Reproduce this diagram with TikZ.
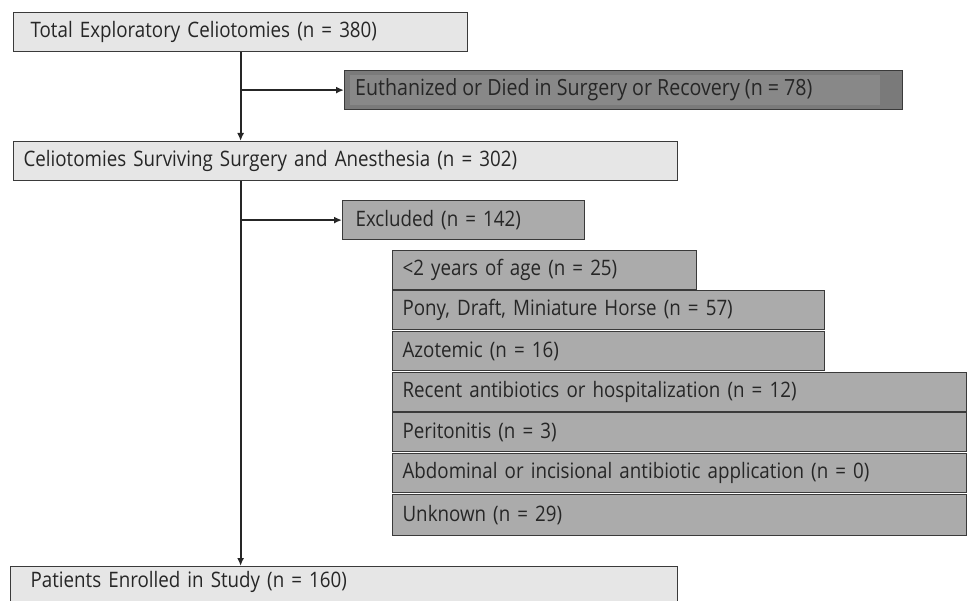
\documentclass[tikz,border=0pt]{standalone}
\usepackage{fontspec}
\setmainfont[FakeStretch=0.88]{Open Sans}
\usetikzlibrary{arrows.meta}
\definecolor{lightbox}{HTML}{E6E6E6}
\definecolor{darkbox}{HTML}{7A7A7A}
\definecolor{darkinner}{HTML}{888888}
\definecolor{midbox}{HTML}{ABABAB}
\definecolor{edge}{HTML}{3A3A3A}
\begin{document}
\begin{tikzpicture}[x=1pt,y=-1pt,
  txt/.style={font=\fontsize{21.3}{25}\selectfont, text=black!85},
  box/.style={draw=edge, line width=1.2pt, anchor=north west, minimum height=39pt,
    align=left, inner ysep=0pt, txt},
  lbox/.style={box, fill=lightbox},
  mbox/.style={box, fill=midbox},
  conn/.style={line width=2pt, draw=black!85, -{Latex[length=8pt,width=7pt]}}
]
\useasboundingbox (0,0) rectangle (967,601);
\node[lbox, inner xsep=17pt, text width=420pt] (total) at (13,12) {Total Exploratory Celiotomies (n = 380)};
\node[box, fill=darkbox, inner xsep=11pt, text width=536pt] (euth) at (344,70) {\phantom{X}};
\fill[darkinner] (350,75) rectangle (880,105);
\node[anchor=west, txt, font=\fontsize{22.3}{26}\selectfont, inner xsep=0pt] (euthtext) at ([xshift=11pt]euth.west) {Euthanized or Died in Surgery or Recovery (n = 78)};
\node[lbox, inner xsep=10pt, text width=644pt] (surv) at (13,141) {Celiotomies Surviving Surgery and Anesthesia (n = 302)};
\node[mbox, inner xsep=13pt, text width=216pt] (excl) at (342,200) {Excluded (n = 142)};
\node[mbox, inner xsep=10pt, text width=284pt] (age) at (392,250) {<2 years of age (n = 25)};
\node[mbox, inner xsep=10pt, text width=412pt] (pony) at (392,290) {Pony, Draft, Miniature Horse (n = 57)};
\node[mbox, inner xsep=10pt, text width=412pt] (azo) at (392,331) {Azotemic (n = 16)};
\node[mbox, inner xsep=10pt, text width=554pt] (recent) at (392,372) {Recent antibiotics or hospitalization (n = 12)};
\node[mbox, inner xsep=10pt, text width=554pt] (perit) at (392,412) {Peritonitis (n = 3)};
\node[mbox, inner xsep=10pt, text width=554pt] (abdom) at (392,453) {Abdominal or incisional antibiotic application (n = 0)};
\node[mbox, inner xsep=10pt, text width=554pt, minimum height=41pt] (unk) at (392,494) {Unknown (n = 29)};
\node[lbox, inner xsep=20pt, text width=627pt, minimum height=44pt, anchor=north west] (enrol) at (10,566) {Patients Enrolled in Study (n = 160)\\[-6pt]\phantom{X}};
\draw[conn] (total.south) -- (total.south |- surv.north);
\draw[conn] (total.south |- euth.west) -- (euth.west);
\draw[conn] (total.south |- surv.south) -- (total.south |- enrol.north);
\draw[conn] (total.south |- excl.west) -- (excl.west);
\end{tikzpicture}
\end{document}
